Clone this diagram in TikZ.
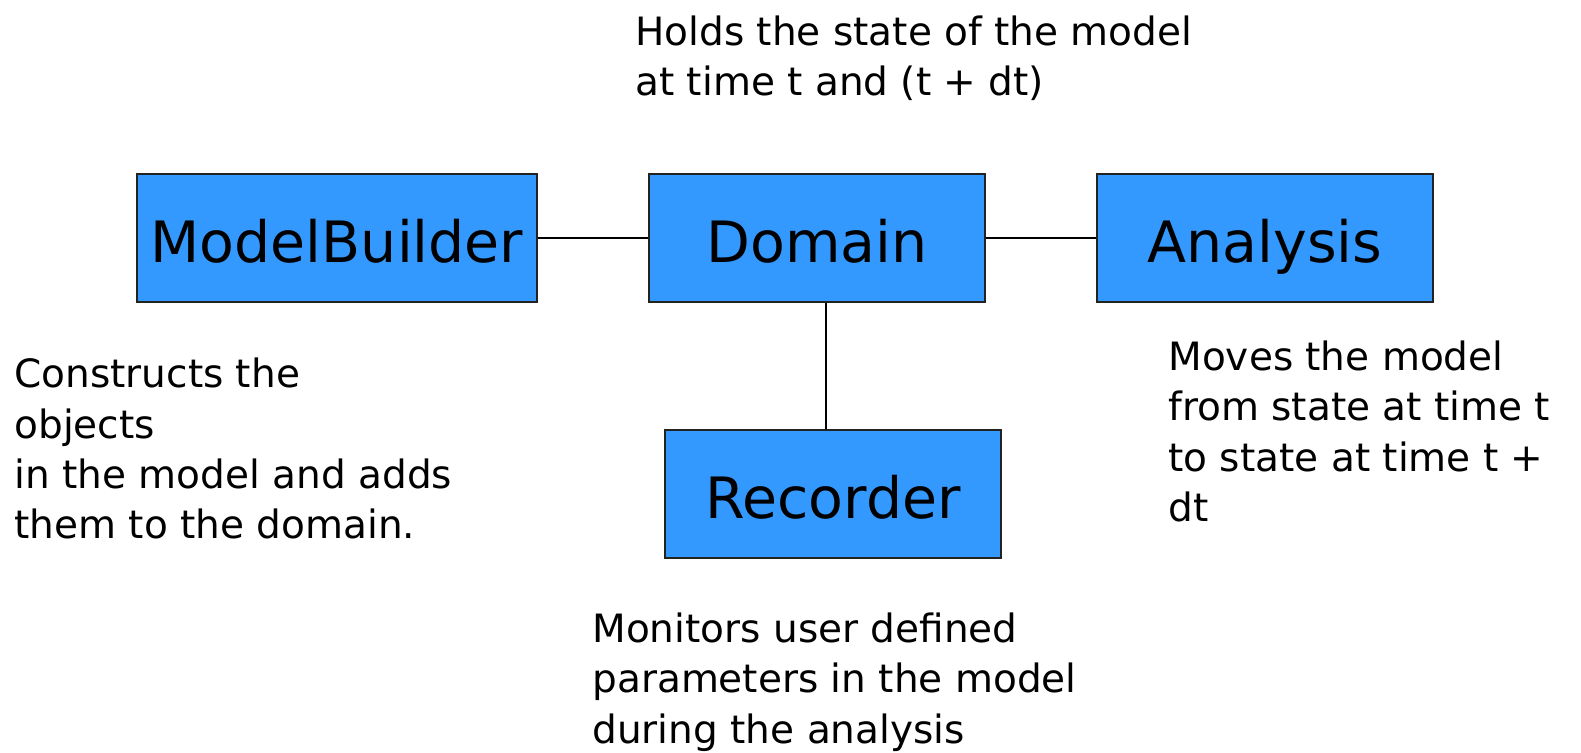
\documentclass[tikz,border=0pt]{standalone}
\usepackage{fontspec}
\setmainfont{DejaVu Sans}
\definecolor{boxblue}{HTML}{3399FF}
\definecolor{edgegray}{HTML}{222222}
\begin{document}
\begin{tikzpicture}[x=0.5pt,y=-0.5pt,
  box/.style={draw=edgegray, line width=0.9pt, fill=boxblue, inner sep=0pt,
    minimum height=64pt, text height=25pt, text depth=0pt,
    font=\fontsize{28.5}{32}\selectfont},
  note/.style={anchor=base west, inner sep=0pt, align=left,
    font=\fontsize{19.5}{25.25}\selectfont},
  link/.style={draw=black, line width=0.75pt}]
\useasboundingbox (0,0) rectangle (1581,753);
\node[box, minimum width=200pt] (mb) at (337,238) {ModelBuilder};
\node[box, minimum width=168pt] (dom) at (817,238) {Domain};
\node[box, minimum width=168pt] (ana) at (1265,238) {Analysis};
\node[box, minimum width=168pt] (rec) at (833,494) {Recorder};
\coordinate (vx) at (826,0);
\draw[link] (mb.east) -- (dom.west);
\draw[link] (dom.east) -- (ana.west);
\draw[link] (dom.south -| vx) -- (rec.north -| vx);
% anchor base = baseline of the last line
\node[note] (tnote) at (635,96) {Holds the state of the model\\at time t and (t + dt)};
\node[note] (lnote) at (14,539) {Constructs the\\objects\\in the model and adds\\them to the domain.};
\node[note] (rnote) at (1168,522) {Moves the model\\from state at time t\\to state at time t +\\dt};
\node[note] (bnote) at (592,743) {Monitors user defined\\parameters in the model\\during the analysis};
\end{tikzpicture}
\end{document}
